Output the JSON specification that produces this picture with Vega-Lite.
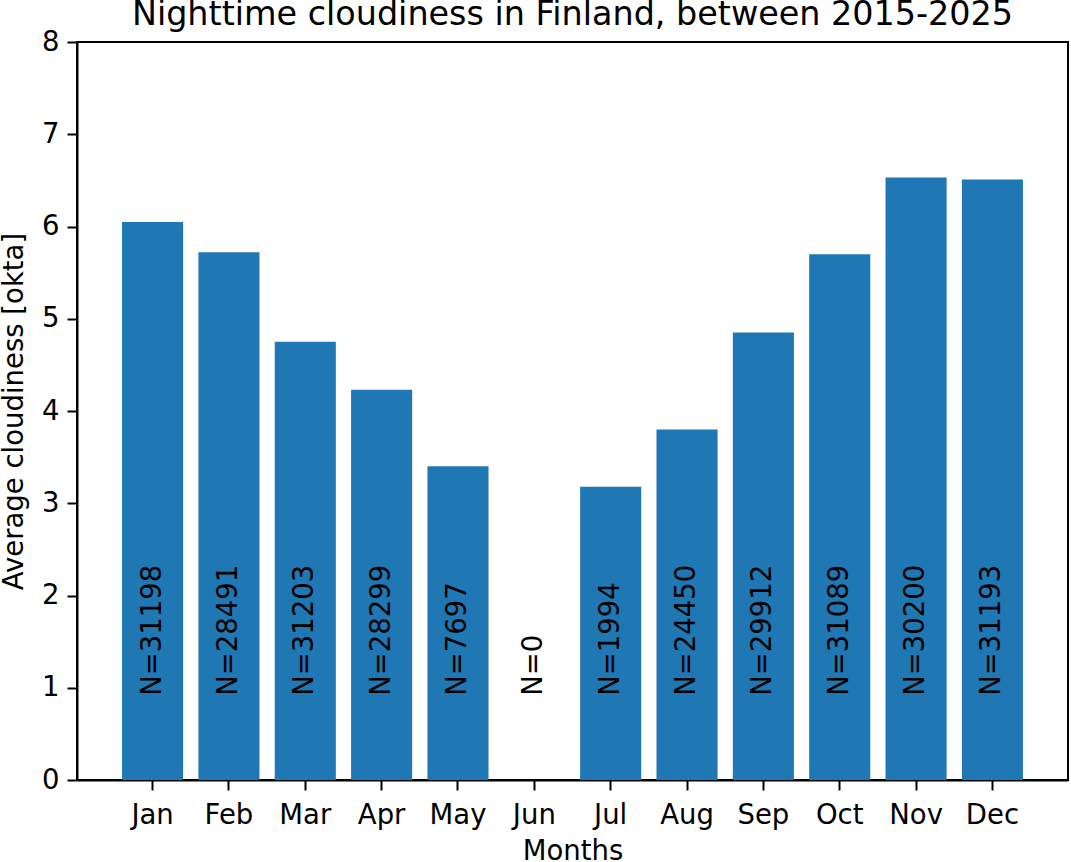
{
  "$schema": "https://vega.github.io/schema/vega-lite/v6.json",
  "width": 991,
  "height": 738,
  "autosize": {"type": "none"},
  "padding": {"left": 77, "top": 42, "right": 3, "bottom": 82},
  "background": "white",
  "title": {
    "text": "Nighttime cloudiness in Finland, between 2015-2025",
    "font": "DejaVu Sans",
    "fontSize": 33.4,
    "fontWeight": "normal",
    "color": "black",
    "anchor": "middle",
    "frame": "group",
    "baseline": "alphabetic",
    "offset": 10,
    "dy": 40
  },
  "data": {
    "values": [
      {"month": "Jan", "cloudiness": 6.05, "n": 31198, "label": "N=31198"},
      {"month": "Feb", "cloudiness": 5.72, "n": 28491, "label": "N=28491"},
      {"month": "Mar", "cloudiness": 4.75, "n": 31203, "label": "N=31203"},
      {"month": "Apr", "cloudiness": 4.23, "n": 28299, "label": "N=28299"},
      {"month": "May", "cloudiness": 3.40, "n": 7697, "label": "N=7697"},
      {"month": "Jun", "cloudiness": 0, "n": 0, "label": "N=0"},
      {"month": "Jul", "cloudiness": 3.18, "n": 1994, "label": "N=1994"},
      {"month": "Aug", "cloudiness": 3.80, "n": 24450, "label": "N=24450"},
      {"month": "Sep", "cloudiness": 4.85, "n": 29912, "label": "N=29912"},
      {"month": "Oct", "cloudiness": 5.70, "n": 31089, "label": "N=31089"},
      {"month": "Nov", "cloudiness": 6.53, "n": 30200, "label": "N=30200"},
      {"month": "Dec", "cloudiness": 6.51, "n": 31193, "label": "N=31193"}
    ]
  },
  "encoding": {
    "x": {
      "field": "month",
      "type": "nominal",
      "sort": null,
      "scale": {"paddingInner": 0.2, "paddingOuter": 0.59},
      "axis": {
        "title": "Months",
        "labelAngle": 0,
        "labelPadding": 11,
        "labelBaseline": "top",
        "titleY": 79,
        "titleBaseline": "alphabetic"
      }
    }
  },
  "layer": [
    {
      "mark": {"type": "bar", "color": "#1f77b4"},
      "encoding": {
        "y": {
          "field": "cloudiness",
          "type": "quantitative",
          "scale": {"domain": [0, 8], "nice": false},
          "axis": {
            "title": "Average cloudiness [okta]",
            "values": [0, 1, 2, 3, 4, 5, 6, 7, 8],
            "format": "d",
            "labelPadding": 8,
            "titleX": -55,
            "titleY": 369,
            "titleAngle": 270,
            "titleAlign": "center",
            "titleBaseline": "alphabetic"
          }
        }
      }
    },
    {
      "mark": {
        "type": "text",
        "angle": 270,
        "align": "left",
        "baseline": "middle",
        "dx": -8,
        "font": "DejaVu Sans",
        "fontSize": 27.5,
        "color": "black"
      },
      "encoding": {
        "y": {"datum": 1, "type": "quantitative"},
        "text": {"field": "label", "type": "nominal"}
      }
    }
  ],
  "config": {
    "view": {"stroke": "black", "strokeWidth": 2},
    "axis": {
      "grid": false,
      "domainColor": "black",
      "domainWidth": 2,
      "tickColor": "black",
      "tickWidth": 2,
      "tickSize": 10,
      "labelColor": "black",
      "labelFont": "DejaVu Sans",
      "labelFontSize": 27.5,
      "titleColor": "black",
      "titleFont": "DejaVu Sans",
      "titleFontSize": 27.5,
      "titleFontWeight": "normal"
    }
  }
}
